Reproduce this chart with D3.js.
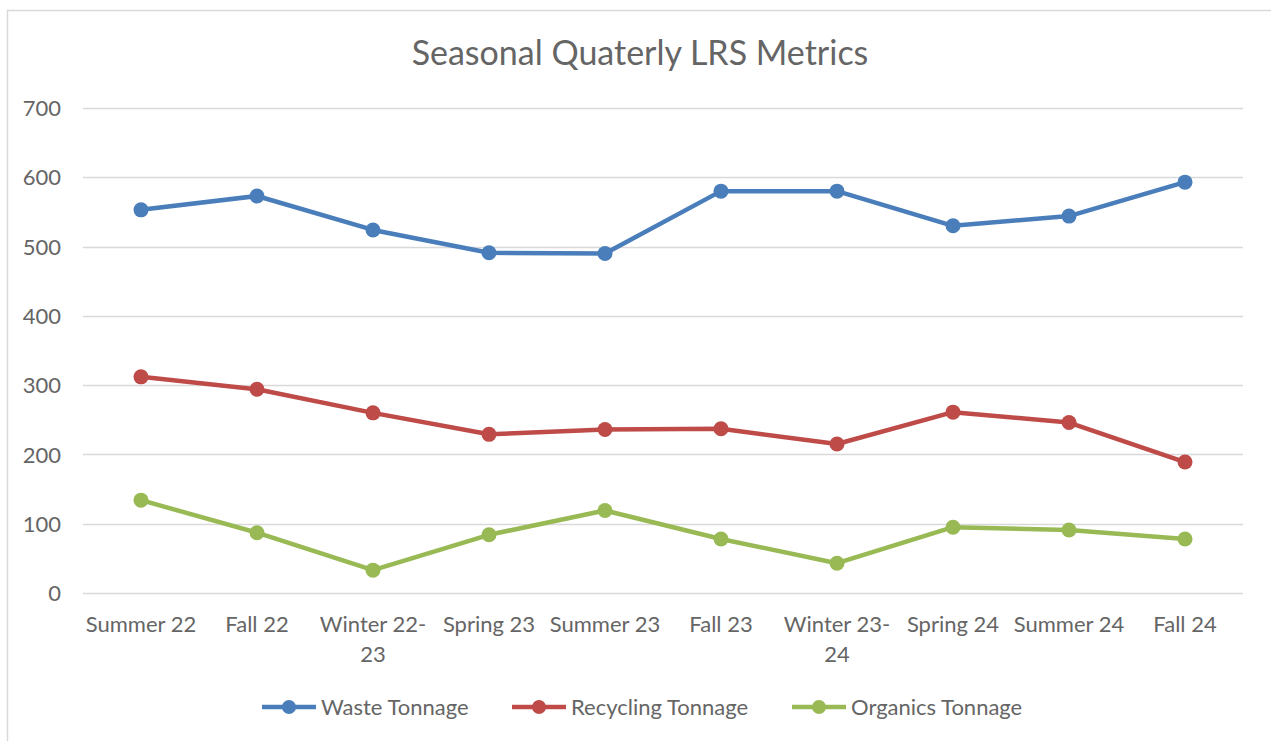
<!DOCTYPE html>
<html><head><meta charset="utf-8">
<script src="https://cdn.jsdelivr.net/npm/d3@7"></script>
<style>body{margin:0;background:#fff;} text{font-family:Lato,"Open Sans",sans-serif;}</style>
</head><body>
<svg id="c" width="1271" height="741"></svg>
<script>
const categories = ["Summer 22","Fall 22","Winter 22-23","Spring 23","Summer 23","Fall 23","Winter 23-24","Spring 24","Summer 24","Fall 24"];
const waste = [553,573,524,491,490,580,580,530,544,593];
const recycling = [312,294,260,229,236,237,215,261,246,189];
const organics = [134,87,33,84,119,78,43,95,91,78];
const yTicks = [0,100,200,300,400,500,600,700];
const seriesNames = ["Waste Tonnage","Recycling Tonnage","Organics Tonnage"];
const colors = ["#4A7EBB","#BE4B48","#98B954"];
const textColor = "#656565";

const series = [waste, recycling, organics].map((v,i)=>({name:seriesNames[i], values:v, color:colors[i]}));
const svg = d3.select("#c");
svg.append("rect").attr("x",7.5).attr("y",10.5).attr("width",1300).attr("height",800)
  .attr("fill","#fff").attr("stroke","#d9d9d9").attr("stroke-width",1.5);

const x = d3.scaleBand().domain(categories).range([83,1243]);
const y = d3.scaleLinear().domain([0,700]).range([593,108]);

svg.append("text").attr("x",640).attr("y",65).attr("text-anchor","middle")
  .attr("font-size",34).attr("fill",textColor).text("Seasonal Quaterly LRS Metrics");

const grid = svg.append("g");
grid.selectAll("line").data(yTicks).join("line")
  .attr("x1",83).attr("x2",1243).attr("y1",d=>Math.round(y(d))+0.5).attr("y2",d=>Math.round(y(d))+0.5)
  .attr("stroke","#d9d9d9").attr("stroke-width",1.5);

const yAxis = svg.append("g").attr("transform","translate(61,0)")
  .call(d3.axisLeft(y).tickValues(yTicks).tickSize(0).tickPadding(0));
yAxis.select(".domain").remove();
yAxis.selectAll("text").attr("font-size",22).attr("fill",textColor).attr("font-family","Lato,'Open Sans',sans-serif").attr("dy","0.35em");

const xAxis = svg.append("g").attr("transform","translate(0,593)")
  .call(d3.axisBottom(x).tickSize(0).tickPadding(0));
xAxis.select(".domain").remove();
xAxis.selectAll("text").attr("font-size",22).attr("fill",textColor).attr("font-family","Lato,'Open Sans',sans-serif")
  .each(function(d){
    const t = d3.select(this); t.text(null).attr("y",0).attr("dy",null);
    let lines = [d];
    const m = d.match(/^(.*-)(\d+)$/);
    if (m) lines = [m[1], m[2]];
    lines.forEach((l,i)=> t.append("tspan").attr("x",0).attr("y",39+i*30).text(l));
  });

const line = d3.line().x((d,i)=>x(categories[i])+x.bandwidth()/2).y(d=>y(d));
series.forEach(s=>{
  svg.append("path").datum(s.values).attr("d",line).attr("fill","none")
    .attr("stroke",s.color).attr("stroke-width",4.5).attr("stroke-linejoin","round").attr("stroke-linecap","round");
  svg.append("g").selectAll("circle").data(s.values).join("circle")
    .attr("cx",(d,i)=>x(categories[i])+x.bandwidth()/2).attr("cy",d=>y(d)).attr("r",7.5).attr("fill",s.color);
});

const legendX = [262,512,792];
const lg = svg.append("g");
series.forEach((s,i)=>{
  const g = lg.append("g").attr("transform",`translate(${legendX[i]},707)`);
  g.append("line").attr("x1",0).attr("x2",54).attr("stroke",s.color).attr("stroke-width",4.5);
  g.append("circle").attr("cx",27).attr("r",7).attr("fill",s.color);
  g.append("text").attr("x",59).attr("dy","0.35em").attr("font-size",22).attr("fill",textColor).text(s.name);
});
</script>
</body></html>
